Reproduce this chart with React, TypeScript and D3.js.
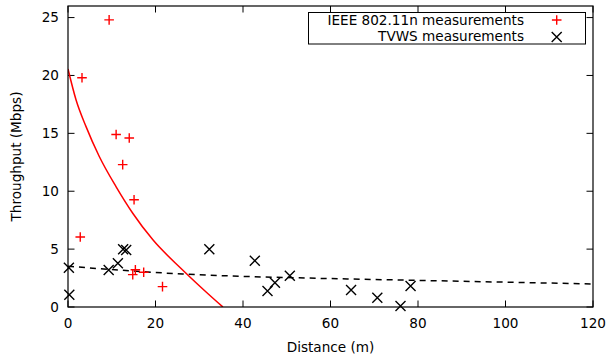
import React, { useEffect, useRef } from 'react'
import * as d3 from 'd3'

// IEEE 802.11n measurements [distance m, throughput Mbps]
const wifiPoints: [number, number][] = [
  [9.4, 24.8], [3.2, 19.8], [11.0, 14.9], [14.0, 14.6], [12.5, 12.3],
  [15.1, 9.26], [2.8, 6.05], [15.4, 3.22], [14.8, 2.8], [17.3, 3.0], [21.6, 1.76],
]
// TVWS measurements
const tvwsPoints: [number, number][] = [
  [0.2, 3.4], [0.3, 1.05], [9.3, 3.2], [11.4, 3.78], [12.6, 4.99], [13.3, 4.93],
  [32.3, 4.99], [42.7, 4.0], [45.6, 1.38], [47.3, 2.1], [50.7, 2.7], [64.7, 1.47],
  [70.7, 0.8], [76.0, 0.09], [78.3, 1.82],
]
// fitted curves
const wifiFit: [number, number][] = [
  [0, 20.56], [1.83, 17.9], [4.1, 15.6], [7.15, 13.0], [10.97, 10.4], [14.8, 8.1],
  [19.4, 5.8], [26.2, 3.2], [31.5, 1.32], [35.4, 0.0],
]
const tvwsFit: [number, number][] = [
  [0, 3.52], [14.8, 3.11], [26.2, 2.85], [42.2, 2.62], [56.9, 2.48], [80, 2.3], [120, 1.99],
]
const xTicks = [0, 20, 40, 60, 80, 100, 120]
const yTicks = [0, 5, 10, 15, 20, 25]
const legendLabels = ['IEEE 802.11n measurements', 'TVWS measurements']

export default function App() {
  const ref = useRef<SVGSVGElement>(null)

  useEffect(() => {
    const W = 610, H = 360
    const m = { left: 68, right: 593, top: 6, bottom: 307 }
    const font = 'DejaVu Sans, sans-serif', fs = 13.6
    const svg = d3.select(ref.current).attr('width', W).attr('height', H)
    svg.selectAll('*').remove()
    svg.append('rect').attr('width', W).attr('height', H).attr('fill', '#fff')

    const x = d3.scaleLinear().domain([0, 120]).range([m.left, m.right])
    const y = d3.scaleLinear().domain([0, 26]).range([m.bottom, m.top])

    svg.append('defs').append('clipPath').attr('id', 'plotclip')
      .append('rect').attr('x', m.left).attr('y', m.top).attr('width', m.right - m.left).attr('height', m.bottom - m.top)

    // ticks (gnuplot style: inward, mirrored)
    const tl = 6.5
    const tg = svg.append('g').attr('stroke', '#000').attr('stroke-width', 1)
    xTicks.forEach(t => {
      tg.append('line').attr('x1', x(t)).attr('x2', x(t)).attr('y1', m.bottom).attr('y2', m.bottom - tl)
      tg.append('line').attr('x1', x(t)).attr('x2', x(t)).attr('y1', m.top).attr('y2', m.top + tl)
    })
    yTicks.forEach(t => {
      tg.append('line').attr('x1', m.left).attr('x2', m.left + tl).attr('y1', y(t)).attr('y2', y(t))
      tg.append('line').attr('x1', m.right).attr('x2', m.right - tl).attr('y1', y(t)).attr('y2', y(t))
    })

    svg.append('g').selectAll('text').data(xTicks).join('text')
      .attr('x', d => x(d)).attr('y', 328).attr('text-anchor', 'middle')
      .attr('font-family', font).attr('font-size', fs).attr('fill', '#000').text(d => d)
    svg.append('g').selectAll('text').data(yTicks).join('text')
      .attr('x', 59).attr('y', d => y(d) + 4.8).attr('text-anchor', 'end')
      .attr('font-family', font).attr('font-size', fs).attr('fill', '#000').text(d => d)

    svg.append('text').attr('x', (m.left + m.right) / 2).attr('y', 352).attr('text-anchor', 'middle')
      .attr('font-family', font).attr('font-size', fs).text('Distance (m)')
    svg.append('text').attr('transform', `translate(21,${(m.top + m.bottom) / 2}) rotate(-90)`)
      .attr('text-anchor', 'middle').attr('font-family', font).attr('font-size', fs).text('Throughput (Mbps)')

    const line = d3.line<[number, number]>().x(d => x(d[0])).y(d => y(d[1])).curve(d3.curveMonotoneX)
    const plot = svg.append('g').attr('clip-path', 'url(#plotclip)')
    plot.append('path').attr('d', line(wifiFit)).attr('fill', 'none').attr('stroke', '#ff0000').attr('stroke-width', 1.5)
    plot.append('path').attr('d', line(tvwsFit)).attr('fill', 'none').attr('stroke', '#000')
      .attr('stroke-width', 1.5).attr('stroke-dasharray', '6,5')

    const plus = (g: any, cx: number, cy: number, color: string) => {
      const s = 4.8
      g.append('path').attr('d', `M${cx - s},${cy}H${cx + s}M${cx},${cy - s}V${cy + s}`)
        .attr('stroke', color).attr('stroke-width', 1.4).attr('fill', 'none')
    }
    const cross = (g: any, cx: number, cy: number, color: string) => {
      const s = 5
      g.append('path').attr('d', `M${cx - s},${cy - s}L${cx + s},${cy + s}M${cx - s},${cy + s}L${cx + s},${cy - s}`)
        .attr('stroke', color).attr('stroke-width', 1.4).attr('fill', 'none')
    }
    const pts = svg.append('g')
    wifiPoints.forEach(d => plus(pts, x(d[0]), y(d[1]), '#ff0000'))
    tvwsPoints.forEach(d => cross(pts, x(d[0]), y(d[1]), '#000'))

    // border
    svg.append('rect').attr('x', m.left).attr('y', m.top).attr('width', m.right - m.left).attr('height', m.bottom - m.top)
      .attr('fill', 'none').attr('stroke', '#000').attr('stroke-width', 1.2)

    // legend
    const lg = svg.append('g')
    lg.append('rect').attr('x', 308.5).attr('y', 12.5).attr('width', 277).attr('height', 31.5)
      .attr('fill', '#fff').attr('stroke', '#000').attr('stroke-width', 1)
    legendLabels.forEach((l, i) => {
      lg.append('text').attr('x', 524).attr('y', 25 + i * 16.3).attr('text-anchor', 'end')
        .attr('font-family', font).attr('font-size', fs).text(l)
    })
    plus(lg, 556.7, 20, '#ff0000')
    cross(lg, 556.7, 37, '#000')
  }, [])

  return <svg ref={ref} style={{ position: 'absolute', left: 0, top: 0 }}></svg>
}
